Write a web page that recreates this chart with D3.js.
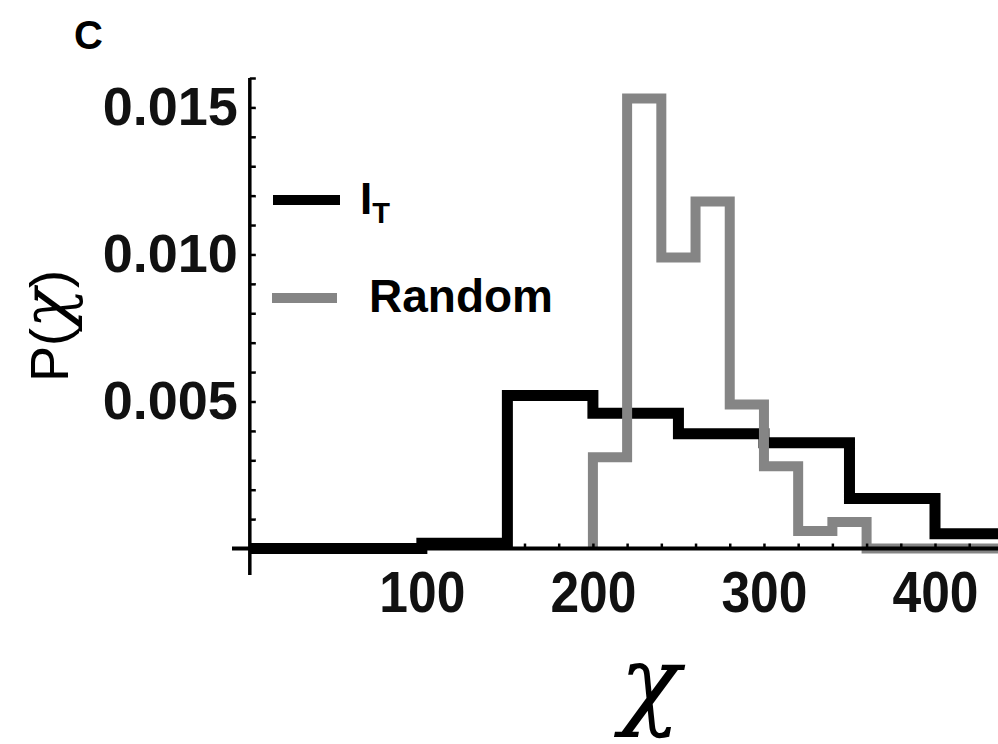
<!DOCTYPE html>
<html>
<head>
<meta charset="utf-8">
<script src="https://cdn.jsdelivr.net/npm/d3@7"></script>
<style>
  body { margin: 0; background: #fff; }
  svg { display: block; }
</style>
</head>
<body>
<div id="chart"></div>
<script>
// histogram of chi for the two sets
const blackEdges = [0, 50, 100, 150, 200, 250, 300, 350, 400, 450];
const blackVals = [0, 0, 0.00018, 0.0052, 0.0046, 0.0039, 0.0036, 0.0017, 0.0005];

const grayEdges = [200, 220, 240, 260, 280, 300, 320, 340, 360];
const grayVals = [0.0031, 0.0153, 0.0099, 0.0118, 0.0049, 0.0028, 0.0006, 0.0009];

const xTicks = [100, 200, 300, 400];
const yTicks = [0.005, 0.010, 0.015];
const legendNames = ['I', 'Random'];

const w = 998;
const h = 744;

const svg = d3.select('#chart')
  .append('svg')
  .attr('width', w)
  .attr('height', h);

const x = d3.scaleLinear().domain([-11, 438]).range([232, 1000]);
const y = d3.scaleLinear().domain([-0.0009, 0.016]).range([575, 78]);

// step lines
const line = d3.line()
  .x(d => x(d[0]))
  .y(d => y(d[1]))
  .curve(d3.curveStepAfter);

const blackPts = blackVals.map((v, i) => [blackEdges[i], v]);
blackPts.push([blackEdges[blackEdges.length - 1], blackVals[blackVals.length - 1]]);

const grayPts = [[grayEdges[0], 0]];
grayVals.forEach((v, i) => grayPts.push([grayEdges[i], v]));
grayPts.push([grayEdges[grayEdges.length - 1], 0]);
grayPts.push([438, 0]);

svg.append('path')
  .attr('d', line(blackPts))
  .attr('fill', 'none')
  .attr('stroke', '#000')
  .attr('stroke-width', 11)
  .attr('stroke-linejoin', 'miter');

svg.append('path')
  .attr('d', line(grayPts))
  .attr('fill', 'none')
  .attr('stroke', '#858585')
  .attr('stroke-width', 10)
  .attr('stroke-linejoin', 'miter');

// y axis
const yMinor = d3.range(0, 0.0161, 0.001);
svg.append('g')
  .attr('transform', `translate(${x(0) - 1},0)`)
  .call(d3.axisRight(y).tickValues(yMinor).tickSize(6).tickFormat(''))
  .call(g => g.select('.domain').remove())
  .selectAll('line').attr('stroke', '#000').attr('stroke-width', 2.5);

svg.append('line')
  .attr('x1', x(0) - 1).attr('x2', x(0) - 1)
  .attr('y1', y(-0.0009)).attr('y2', y(0.016))
  .attr('stroke', '#000').attr('stroke-width', 3.5);

const yAx = svg.append('g')
  .attr('transform', `translate(${x(0) - 1},0)`)
  .call(d3.axisLeft(y).tickValues(yTicks).tickSize(0).tickPadding(12).tickFormat(d3.format('.3f')));
yAx.select('.domain').remove();
yAx.selectAll('text')
  .attr('font-family', 'Liberation Sans, Arial, sans-serif')
  .attr('font-weight', 'bold')
  .attr('font-size', 54)
  .attr('fill', '#111');

// x axis
const xMinor = d3.range(0, 440, 20);
svg.append('g')
  .attr('transform', `translate(0,${y(0)})`)
  .call(d3.axisTop(x).tickValues(xMinor).tickSize(5).tickFormat(''))
  .call(g => g.select('.domain').remove())
  .selectAll('line').attr('stroke', '#000').attr('stroke-width', 2.5);

svg.append('line')
  .attr('x1', x(-11)).attr('x2', x(438))
  .attr('y1', y(0)).attr('y2', y(0))
  .attr('stroke', '#000').attr('stroke-width', 4);

const xAx = svg.append('g')
  .attr('transform', `translate(0,${y(0)})`)
  .call(d3.axisBottom(x).tickValues(xTicks).tickSize(0).tickPadding(0).tickFormat(d3.format('d')));
xAx.select('.domain').remove();
xAx.selectAll('text')
  .attr('y', 63)
  .attr('dy', 0)
  .attr('font-family', 'Liberation Sans, Arial, sans-serif')
  .attr('font-weight', 'bold')
  .attr('font-size', 58)
  .attr('textLength', 86)
  .attr('lengthAdjust', 'spacingAndGlyphs')
  .attr('fill', '#111');

// legend
const legend = svg.append('g');
legend.append('line')
  .attr('x1', 273).attr('x2', 340).attr('y1', 200).attr('y2', 200)
  .attr('stroke', '#000').attr('stroke-width', 10);
legend.append('line')
  .attr('x1', 272).attr('x2', 337).attr('y1', 298).attr('y2', 298)
  .attr('stroke', '#858585').attr('stroke-width', 10);

const lt = legend.append('text')
  .attr('x', 360).attr('y', 214)
  .attr('font-family', 'Liberation Sans, Arial, sans-serif')
  .attr('font-weight', 'bold')
  .attr('font-size', 44);
lt.append('tspan').text(legendNames[0]);
lt.append('tspan').attr('font-size', 29).attr('dy', 9).text('T');

legend.append('text')
  .attr('x', 369).attr('y', 312)
  .attr('font-family', 'Liberation Sans, Arial, sans-serif')
  .attr('font-weight', 'bold')
  .attr('font-size', 46)
  .text(legendNames[1]);

// panel letter
svg.append('text')
  .attr('x', 74).attr('y', 49)
  .attr('font-family', 'Liberation Sans, Arial, sans-serif')
  .attr('font-weight', 'bold')
  .attr('font-size', 40)
  .text('C');

// y title
const yt = svg.append('text')
  .attr('transform', 'translate(68,326) rotate(-90)')
  .attr('text-anchor', 'middle')
  .attr('font-family', 'Liberation Sans, Arial, sans-serif')
  .attr('font-size', 54);
yt.append('tspan').text('P(');
yt.append('tspan')
  .attr('font-family', 'DejaVu Serif, serif')
  .attr('font-style', 'italic')
  .attr('font-size', 66)
  .text('χ');
yt.append('tspan').text(')');

// x title
svg.append('text')
  .attr('x', 650).attr('y', 716)
  .attr('text-anchor', 'middle')
  .attr('font-family', 'DejaVu Serif, serif')
  .attr('font-style', 'italic')
  .attr('font-size', 100)
  .text('χ');
</script>
</body>
</html>
